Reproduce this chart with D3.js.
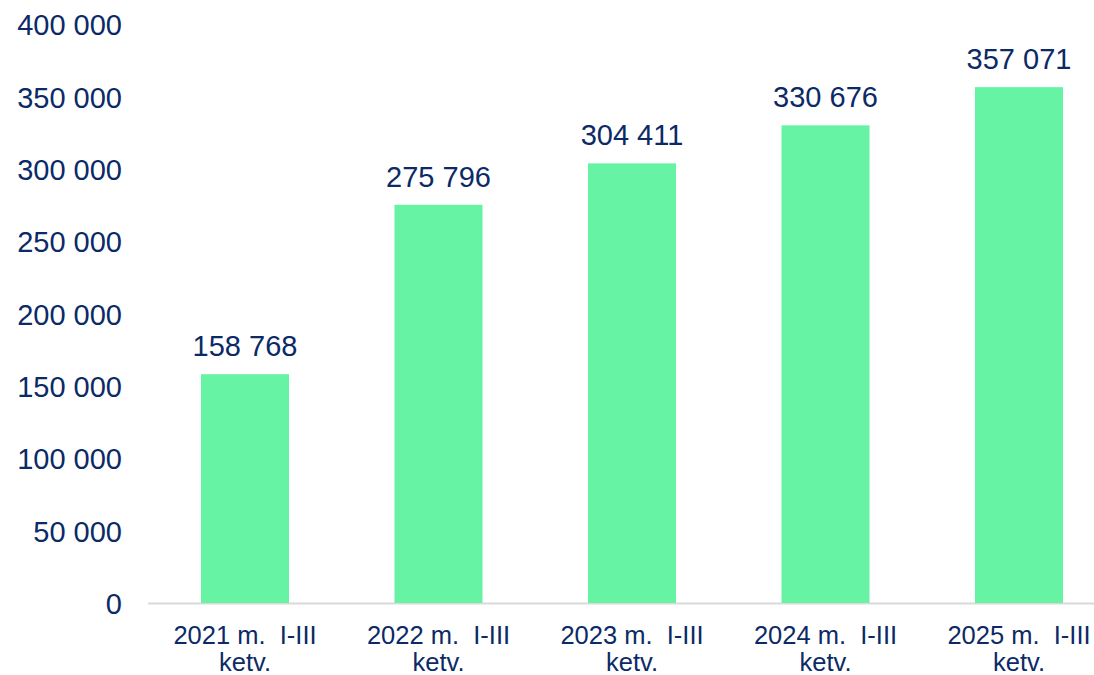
<!DOCTYPE html>
<html><head><meta charset="utf-8">
<script src="https://cdn.jsdelivr.net/npm/d3@7"></script>
<style>body{margin:0;background:#fff;}svg{display:block;}</style>
</head><body>
<svg id="c" width="1094" height="675"></svg>
<script>
const categories = ["2021 m.  I-III|ketv.", "2022 m.  I-III|ketv.", "2023 m.  I-III|ketv.", "2024 m.  I-III|ketv.", "2025 m.  I-III|ketv."];
const values = [158768, 275796, 304411, 330676, 357071];
const yTicks = [0, 50000, 100000, 150000, 200000, 250000, 300000, 350000, 400000];

const svg = d3.select("#c");
const textColor = "#0b2a66";
const font = "'Liberation Sans', Arial, sans-serif";
const fmt = v => d3.format(",")(v).replace(/,/g, " ");

const x = d3.scaleBand().domain(categories).range([148.25, 1115.75]).paddingInner(0.545).paddingOuter(0.2725);
const y = d3.scaleLinear().domain([0, 400000]).range([604, 25]);

// axis line
svg.append("line").attr("x1", 148).attr("x2", 1094).attr("y1", 603.5).attr("y2", 603.5)
  .attr("stroke", "#d9d9d9").attr("stroke-width", 2);

// bars
svg.selectAll("rect.bar").data(values).join("rect")
  .attr("x", (d, i) => x(categories[i]))
  .attr("width", x.bandwidth())
  .attr("y", d => y(d))
  .attr("height", d => y(0) - y(d) - 1)
  .attr("fill", "#66f4a4");

// y tick labels
svg.selectAll("text.yt").data(yTicks).join("text")
  .attr("x", 122).attr("y", d => y(d))
  .attr("dy", "0.35em")
  .attr("text-anchor", "end")
  .attr("font-family", font).attr("font-size", 29)
  .attr("fill", textColor)
  .text(d => fmt(d));

// data labels
svg.selectAll("text.dl").data(values).join("text")
  .attr("x", (d, i) => x(categories[i]) + x.bandwidth() / 2)
  .attr("y", d => y(d) - 18)
  .attr("text-anchor", "middle")
  .attr("font-family", font).attr("font-size", 29)
  .attr("fill", textColor)
  .text(d => fmt(d));

// category labels
categories.forEach(c => {
  const lines = c.split("|");
  const t = svg.append("text")
    .attr("text-anchor", "middle")
    .attr("font-family", font).attr("font-size", 25.5)
    .attr("fill", textColor)
    .attr("xml:space", "preserve");
  lines.forEach((l, k) => {
    t.append("tspan").attr("x", x(c) + x.bandwidth() / 2).attr("y", 644 + k * 27).text(l);
  });
});
</script>
</body></html>
